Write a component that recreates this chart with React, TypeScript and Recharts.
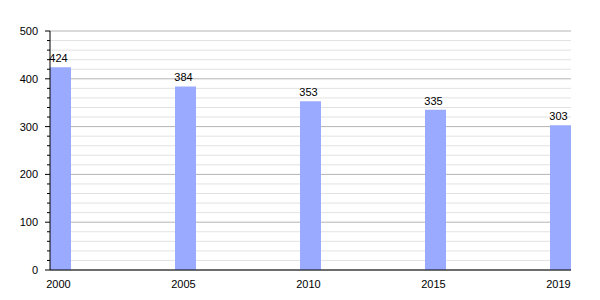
import React from 'react';
import { BarChart, Bar, XAxis, YAxis, CartesianGrid, LabelList } from 'recharts';

const years = ['2000', '2005', '2010', '2015', '2019'];
const population = [424, 384, 353, 335, 303];
const minorTicks = [
  0, 20, 40, 60, 80, 100, 120, 140, 160, 180, 200, 220, 240, 260, 280, 300,
  320, 340, 360, 380, 400, 420, 440, 460, 480, 500,
];

const data = years.map((year, i) => ({ idx: i, year, value: population[i] }));

const TICK_SIZE = 5;
const TICK_MARGIN = 7;

const YTick = (props: any) => {
  const { x, y, payload } = props;
  const axisX = x + TICK_SIZE + TICK_MARGIN;
  const major = payload.value % 100 === 0;
  return (
    <g>
      <line x1={axisX - (major ? 5 : 3)} x2={axisX} y1={y} y2={y} stroke="#000" />
      {major && (
        <text x={x} y={y} dy="0.355em" textAnchor="end" fontSize={11} fill="#000">
          {payload.value}
        </text>
      )}
    </g>
  );
};

// every 5th grid line (multiples of 100) is darker
const gridLine = (p: any) => {
  const major = p.index % 5 === 0;
  return (
    <line
      key={`h-${p.index}`}
      x1={p.x1}
      x2={p.x2}
      y1={p.y1}
      y2={p.y2}
      stroke={major ? '#b4b4b4' : '#e2e2e2'}
      strokeWidth={1}
    />
  );
};

const App: React.FC = () => {
  return (
    <div style={{ width: 600, height: 300, fontFamily: '"Liberation Sans", Arial, sans-serif' }}>
      <style>{'body{margin:0}'}</style>
      <BarChart
        width={600}
        height={300}
        data={data}
        margin={{ top: 31, right: 29, left: 0, bottom: 8 }}
      >
        <CartesianGrid vertical={false} horizontal={gridLine} />
        <XAxis
          dataKey="idx"
          type="number"
          domain={[0, years.length - 1]}
          ticks={data.map((d) => d.idx)}
          tickFormatter={(v: number) => years[v]}
          padding={{ left: 10.5, right: 10.5 }}
          height={22}
          axisLine={{ stroke: '#000' }}
          tickLine={false}
          tickMargin={4}
          tick={{ fill: '#000', fontSize: 11, dx: -2 }}
        />
        <YAxis
          domain={[0, 500]}
          ticks={minorTicks}
          interval={0}
          width={50}
          axisLine={{ stroke: '#000' }}
          tickLine={false}
          tickSize={TICK_SIZE}
          tickMargin={TICK_MARGIN}
          tick={<YTick />}
        />
        <Bar dataKey="value" fill="#9aabff" barSize={21} isAnimationActive={false}>
          <LabelList dataKey="value" position="top" fill="#000" fontSize={11} dx={-2} />
        </Bar>
      </BarChart>
    </div>
  );
};

export default App;
